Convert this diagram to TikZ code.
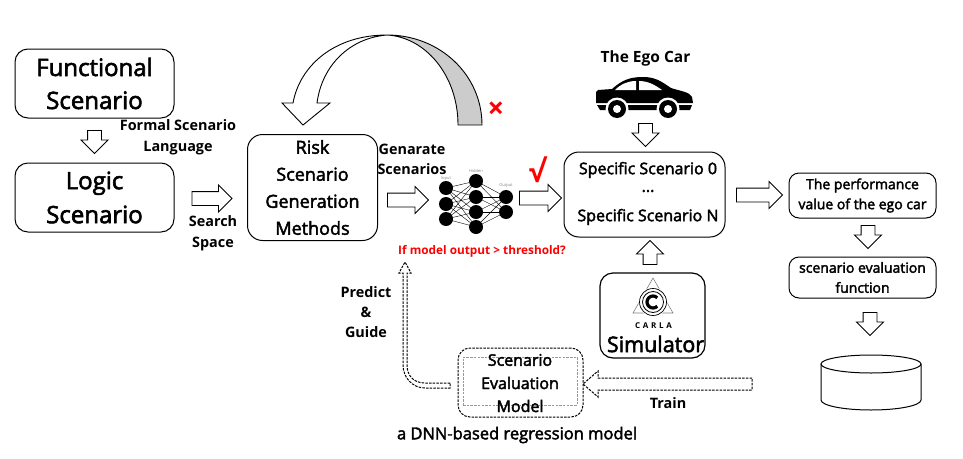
\documentclass[tikz,border=0pt]{standalone}
\usepackage{fontspec}
\setmainfont{Open Sans}
\newfontfamily\medfont[FakeBold=2.5]{Open Sans}
\usetikzlibrary{positioning, shapes.arrows, calc}

\newcommand{\fs}[1]{\fontsize{#1}{#1}\selectfont}

\begin{document}
\begin{tikzpicture}[
                x=1pt, y=-1pt,
                box/.style={rectangle, draw, line width=1pt, rounded corners=13pt, align=center, inner sep=0pt, font=\medfont},
                lbl/.style={font=\fs{14.4}\bfseries, align=center},
                blockarrow/.style={single arrow, draw, line width=0.9pt, fill=white, inner xsep=0pt, inner ysep=6.5pt, minimum width=26pt, single arrow head extend=6.5pt, single arrow tip angle=90},
                downarrow/.style={blockarrow, inner xsep=6.5pt, inner ysep=0pt, minimum height=23pt, shape border rotate=270},
                dashline/.style={line width=1pt, dash pattern=on 2.5pt off 1.2pt, fill=white},
                neuron/.style={circle, fill=black, inner sep=0pt, minimum size=14pt},
                nnlbl/.style={font=\fs{4}, text=gray},
                med/.style={font=\fs{#1}\medfont}
            ]
                \useasboundingbox (0,0) rectangle (963,458);

                % Left column
                \node[box, minimum width=159pt, minimum height=69pt, font=\fs{24}\medfont, execute at begin node={\setlength{\baselineskip}{33pt}}] (functional) at (94.5,83.5) {Functional\\Scenario};
                \node[box, minimum width=159pt, minimum height=69pt, font=\fs{24}\medfont, execute at begin node={\setlength{\baselineskip}{34pt}}] (logic) at (94.5,197.5) {Logic\\Scenario};
                \node[downarrow] (arrow1) at (94.5,138.5) {};
                \node[lbl, execute at begin node={\setlength{\baselineskip}{21pt}}] (language) at (178,137) {Formal Scenario\\Language};
                \node[blockarrow, minimum height=40pt] (arrow2) at (208.5,198.5) {};
                \node[lbl, execute at begin node={\setlength{\baselineskip}{21pt}}] (space) at (213,233) {Search\\Space};

                % Risk generation and curved feedback
                \node[box, minimum width=130pt, minimum height=106pt, font=\fs{18}\medfont, rounded corners=15pt, execute at begin node={\setlength{\baselineskip}{27pt}}] (risk) at (312.5,187.5) {Risk\\Scenario\\Generation\\Methods};
                \draw[line width=0.9pt, fill=black!20] (387,35) .. controls (440,35) and (482,75) .. (482,125) -- (458,125) .. controls (458,75) and (425,37) .. (387,35) -- cycle;
                \draw[line width=0.9pt, fill=white] (387,35) .. controls (335,35) and (300,65) .. (293,103) -- (282,103) -- (303,125) -- (330,103) -- (317,103) .. controls (322,65) and (350,38) .. (387,35) -- cycle;
                \node[font=\fs{29}\bfseries, text=red] (cross) at (496,110.5) {×};
                \node[lbl, execute at begin node={\setlength{\baselineskip}{20pt}}] (generate) at (412,159) {Genarate\\Scenarios};
                \node[blockarrow, minimum height=41pt] (arrow3) at (404.5,200) {};

                % Network
                \foreach \a in {188,204,219} {\foreach \b in {181,197,212,227} {\draw[line width=0.4pt] (446,\a) -- (476,\b);}}
                \foreach \a in {181,197,212,227} {\foreach \b in {197,212} {\draw[line width=0.4pt] (476,\a) -- (506,\b);}}
                \foreach \y [count=\i] in {188,204,219} {\node[neuron] (in\i) at (446,\y) {};}
                \foreach \y [count=\i] in {181,197,212,227} {\node[neuron] (hid\i) at (476,\y) {};}
                \foreach \y [count=\i] in {197,212} {\node[neuron] (out\i) at (506,\y) {};}
                \node[nnlbl] (inlbl) at (446,179) {Input};
                \node[nnlbl] (hidlbl) at (476,171) {Hidden};
                \node[nnlbl] (outlbl) at (506,186) {Output};
                \node[font=\fs{11.8}\bfseries, text=red] (question) at (482,251) {If model output > threshold?};
                \node[font=\fs{30}\bfseries, text=red] (check) at (537,170) {√};
                \node[blockarrow, minimum height=42pt] (arrow4) at (537,198) {};

                % Ego car
                \node[font=\fs{15.5}\bfseries] (ego) at (645.5,58) {The Ego Car};
                \fill (596,92) -- (598,90) -- (612,89) .. controls (622,80) and (630,77) .. (643,77) .. controls (656,77) and (662,82) .. (671,88) .. controls (680,91) and (690,92) .. (692,97) -- (693,103) -- (596,103) -- cycle;
                \fill (597,105) -- (692,105) -- (690,110) -- (600,110) -- cycle;
                \fill[white] (615,90) .. controls (621,84) and (628,81) .. (636,81) -- (636,90) -- cycle;
                \fill[white] (639,81) .. controls (648,81) and (655,85) .. (662,90) -- (639,90) -- cycle;
                \foreach \x in {617,668} {
                    \fill[white] (\x,109) circle (11.5);
                    \fill (\x,109) circle (9);
                    \fill[white] (\x,109) circle (4);
                }
                \node[downarrow] (arrow5) at (645.5,131.5) {};

                % Specific scenarios
                \node[box, minimum width=161pt, minimum height=85pt, rounded corners=15pt] (specific) at (644.5,194.5) {};
                \node[med=16] (spec0) at (648,170) {Specific Scenario 0};
                \node[med=16] (dots) at (648,191) {...};
                \node[med=16] (specN) at (648,217) {Specific Scenario N};
                \node[blockarrow, minimum height=46pt] (arrow6) at (756,195) {};

                % Right column
                \node[box, minimum width=147pt, minimum height=45pt, rounded corners=10pt, font=\fs{14}\medfont, execute at begin node={\setlength{\baselineskip}{20pt}}] (performance) at (862.5,195.5) {The performance\\value of the ego car};
                \node[downarrow] (arrow7) at (868,233.5) {};
                \node[box, minimum width=147pt, minimum height=41pt, rounded corners=10pt, font=\fs{14}\medfont, execute at begin node={\setlength{\baselineskip}{20pt}}] (evalfunc) at (862.5,277.5) {scenario evaluation\\function};
                \node[downarrow] (arrow8) at (870,320.5) {};
                \draw[line width=1pt] (821,364) -- (821,400) arc[start angle=180, end angle=0, x radius=50, y radius=10] -- (921,364);
                \draw[line width=1pt] (871,364) ellipse[x radius=50, y radius=9];

                % Simulator
                \node[downarrow, shape border rotate=90, minimum height=24pt] (arrow9) at (650,256) {};
                \node[box, line width=1.2pt, minimum width=105pt, minimum height=85pt] (simulator) at (652.5,315.5) {};
                \draw[gray, line width=0.6pt] (653,278) -- (633,313) -- (673,313) -- cycle;
                \fill[white] (653,302) circle (14.5);
                \draw[line width=0.7pt] (653,302) circle (13.5);
                \draw[line width=0.8pt] (653,302) circle (10.5);
                \draw[line width=3.2pt] ($(653,302)+(45:6)$) arc[start angle=45, end angle=315, radius=6];
                \node[font=\fs{8}\bfseries] (carla) at (653.5,326) {C\,\,A\,\,R\,\,L\,\,A};
                \node[med=21.5] (simtext) at (655.5,344) {Simulator};

                % Regression model
                \node[box, dash pattern=on 2.5pt off 1.2pt, rounded corners=12pt, minimum width=125pt, minimum height=69pt] (model) at (520.5,382.5) {};
                \node[rectangle, draw=black!40, dash pattern=on 2.5pt off 1.2pt, line width=1pt, minimum width=114pt, minimum height=48pt, inner sep=0pt] (modelinner) at (520,381) {};
                \node[med=16] (model1) at (520,360) {Scenario};
                \node[med=16] (model2) at (520,383) {Evaluation};
                \node[med=16] (model3) at (520,406) {Model};
                \draw[dashline] (752,378) -- (598,378) -- (598,371) -- (583,384) -- (598,397) -- (598,390) -- (752,390) -- cycle;
                \draw[dashline] (450,383) -- (425,383) .. controls (413,383) and (407,375) .. (407,365) -- (407,273) -- (411,273) -- (405,262) -- (399,273) -- (403,273) -- (403,365) .. controls (403,378) and (413,388) .. (425,388) -- (450,388) -- cycle;
                \node[lbl, execute at begin node={\setlength{\baselineskip}{20pt}}] (predict) at (366,312) {Predict\\\&\\Guide};
                \node[lbl] (train) at (668,403) {Train};
                \node[med=16.5] (dnn) at (517,435) {a DNN-based regression model};
            \end{tikzpicture}
\end{document}
